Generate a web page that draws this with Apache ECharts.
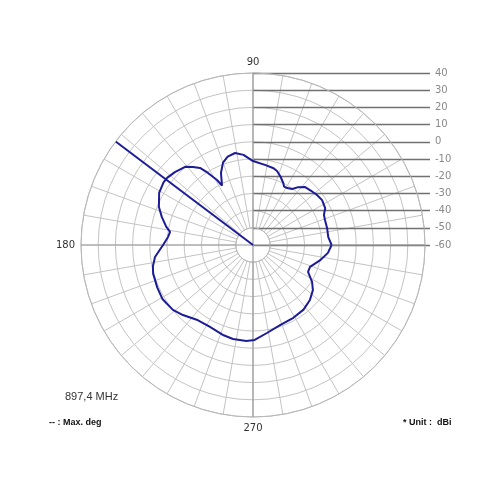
<!DOCTYPE html>
<html><head><meta charset="utf-8">
<script src="https://cdn.jsdelivr.net/npm/echarts@6/dist/echarts.min.js"></script>
<style>html,body{margin:0;padding:0;background:#fff}#c{width:500px;height:500px}</style>
</head><body><div id="c"></div>
<script>
// Pattern angles (deg) and gain (dBi)
var angles = [0,6,13,19,23,27,33,38,43,48,52,55,59,62,64,68,72,75,81,90,96,101,106,110,114,117.5,119,122,124.5,127.6,131,137,142,145,151,158,163,168,171,174.6,180,187,192,196,204,211,219,225,233,242,252,258,266,271,279,289,299,308,316,323,328,334,339,347,354,360];
var gains = [-14.3,-16.0,-15.8,-15.7,-15.2,-12.9,-12.1,-12.8,-13.8,-14.7,-17.3,-20.3,-21.4,-21.5,-19.9,-17.2,-14.8,-13.8,-13.0,-11.2,-7.3,-5.5,-6.6,-9.0,-14.2,-21.0,-16.8,-10.6,-5.6,-2.8,0.2,2.1,3.4,3.5,2.4,-1.0,-4.6,-8.4,-11.2,-10.4,-7.7,-2.6,-0.5,0.4,0.9,1.3,-0.1,-2.4,-5.6,-6.2,-4.8,-4.1,-4.1,-4.8,-8.2,-10.9,-11.6,-12.3,-14.0,-16.4,-19.5,-24.4,-24.5,-20.1,-16.2,-14.3];
var maxDeg = 143;
var rMin = -60, rMax = 40, rStep = 10;
var scaleTicks = [40,30,20,10,0,-10,-20,-30,-40,-50,-60];
var angleLabels = {90:'90',180:'180',270:'270'};
var freqText = '897,4 MHz';
var legendText = '-- : Max. deg';
var unitText = '* Unit :  dBi';

var pattern = angles.map(function(a,i){return [gains[i], a];});
var maxLine = [[rMin, maxDeg],[rMax, maxDeg]];

var chart = echarts.init(document.getElementById('c'));
var C = [253,245], R = 172, R0 = R/((rMax-rMin)/rStep);
chart.setOption({
  backgroundColor:'#fff',
  animation:false,
  polar:[
    {center:C, radius:[R0, R]},
    {center:C, radius:[0, R]}
  ],
  angleAxis:[
    {polarIndex:0, type:'value', min:0, max:360, interval:10, startAngle:0, clockwise:false,
     axisLine:{show:true, lineStyle:{color:'#b8b8b8', width:1}}, axisTick:{show:false}, axisLabel:{show:false},
     splitLine:{show:true, lineStyle:{color:'#c4c4c4', width:1}}},
    {polarIndex:1, type:'value', min:0, max:360, interval:90, startAngle:0, clockwise:false, z:5,
     axisLine:{show:false}, axisTick:{show:false},
     axisLabel:{show:true, margin:6, color:'#333', fontSize:10, fontFamily:'DejaVu Sans',
       formatter:function(v){return angleLabels[v]||'';}},
     splitLine:{show:true, lineStyle:{color:'#9a9a9a', width:1.2}}}
  ],
  radiusAxis:[
    {polarIndex:0, type:'value', min:rMin+rStep, max:rMax, interval:rStep,
     axisLine:{show:false}, axisTick:{show:false}, axisLabel:{show:false},
     splitLine:{show:true, lineStyle:{color:'#c4c4c4', width:1}}},
    {polarIndex:1, type:'value', min:rMin, max:rMax, interval:rStep,
     axisLine:{show:false}, axisTick:{show:false}, axisLabel:{show:false}, splitLine:{show:false}}
  ],
  grid:{left:C[0], right:70, top:C[1]-R, bottom:500-C[1]},
  xAxis:{type:'value', min:0, max:1, show:false},
  yAxis:{type:'value', position:'right', min:rMin, max:rMax, interval:rStep,
    axisLine:{show:false}, axisTick:{show:false},
    axisLabel:{color:'#8a8a8a', fontSize:10, margin:5, fontFamily:'DejaVu Sans'},
    splitLine:{show:true, lineStyle:{color:'#707070', width:1.3}}},
  series:[
    {type:'line', coordinateSystem:'polar', polarIndex:1, data:pattern, symbol:'none', smooth:false, z:10,
     lineStyle:{color:'#1c1c96', width:2}},
    {type:'line', coordinateSystem:'polar', polarIndex:1, data:maxLine, symbol:'none', z:10,
     lineStyle:{color:'#1c1c96', width:2}}
  ],
  graphic:[
    {type:'text', left:65, top:391, style:{text:freqText, fill:'#333', font:'11px "Liberation Sans"'}},
    {type:'text', left:49, top:418, style:{text:legendText, fill:'#111', font:'bold 9px "Liberation Sans"'}},
    {type:'text', left:403, top:418, style:{text:unitText, fill:'#111', font:'bold 9px "Liberation Sans"'}}
  ]
});
</script></body></html>
